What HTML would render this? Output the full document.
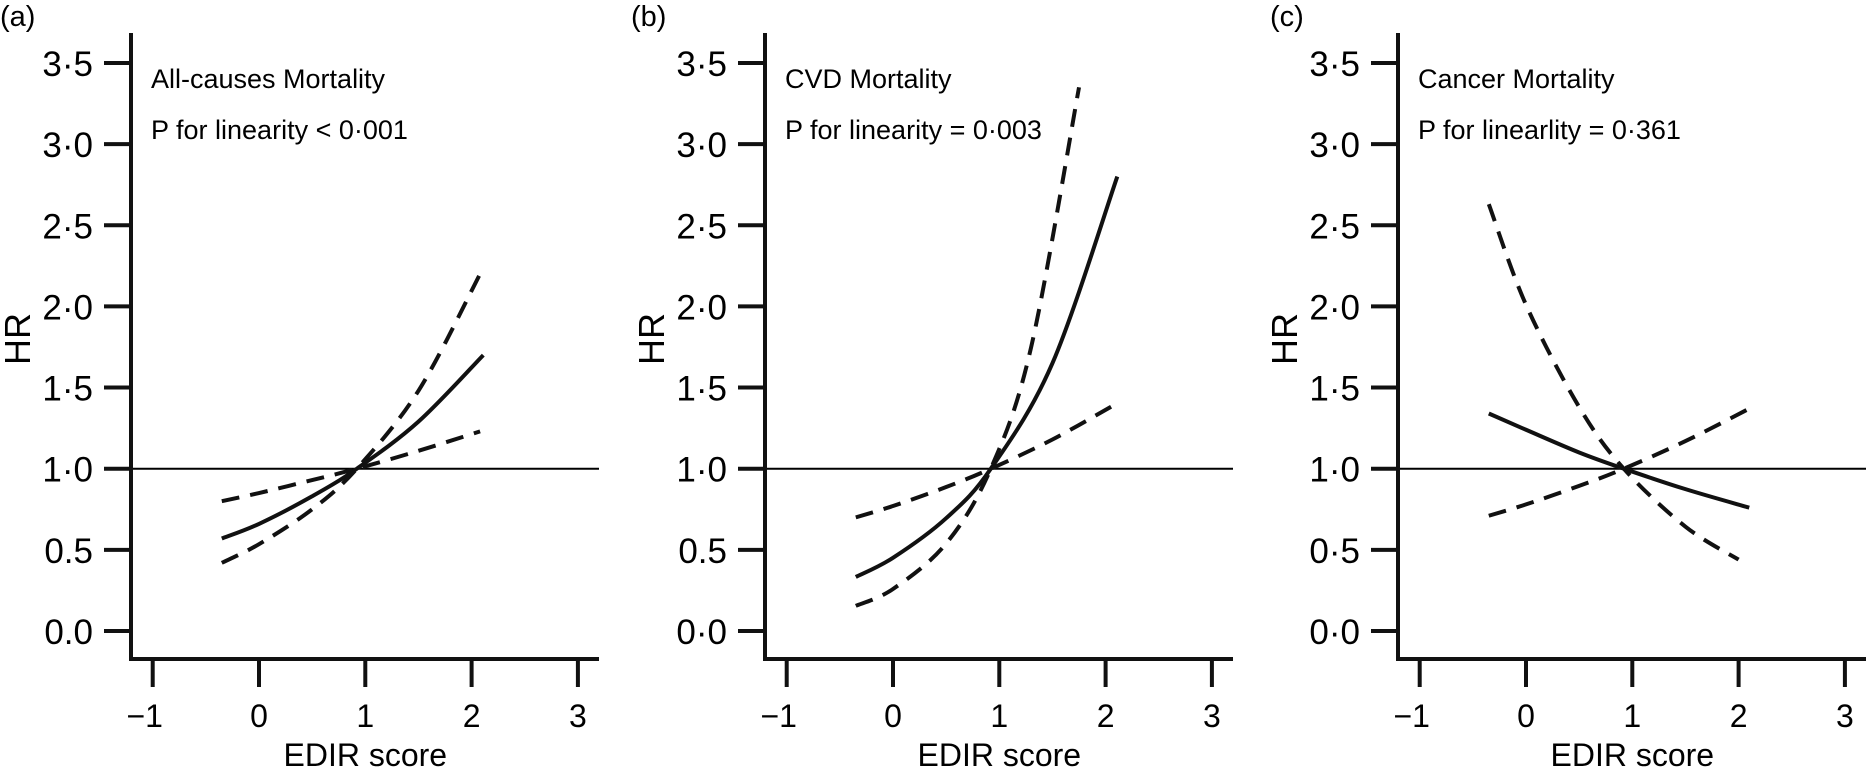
<!DOCTYPE html>
<html><head><meta charset="utf-8"><style>
html,body{margin:0;padding:0;background:#fff;}
svg{display:block;font-family:"Liberation Sans",Arial,sans-serif;}
</style></head><body>
<svg id="chart" width="1867" height="769" viewBox="0 0 1867 769"></svg>
<script>
const panelLetters = ["(a)", "(b)", "(c)"];
const panelTitles = ["All-causes Mortality", "CVD Mortality", "Cancer Mortality"];
const panelPvals = ["P for linearity < 0\u00b7001", "P for linearity = 0\u00b7003", "P for linearlity = 0\u00b7361"];
const yTickValues = [0, 0.5, 1, 1.5, 2, 2.5, 3, 3.5];
const yTickLabelsA = ["0.0", "0.5", "1\u00b70", "1\u00b75", "2\u00b70", "2\u00b75", "3\u00b70", "3\u00b75"];
const yTickLabelsB = ["0\u00b70", "0.5", "1\u00b70", "1\u00b75", "2\u00b70", "2\u00b75", "3\u00b70", "3\u00b75"];
const yTickLabelsC = ["0\u00b70", "0\u00b75", "1\u00b70", "1\u00b75", "2\u00b70", "2\u00b75", "3\u00b70", "3\u00b75"];
const xTickValues = [-1, 0, 1, 2, 3];
const xTickLabels = ["\u22121", "0", "1", "2", "3"];
const referenceHR = 1;

// Panel (a)
const aSolidX = [-0.35, 0, 0.5, 0.92, 1.5, 2.11];
const aSolidY = [0.57, 0.66, 0.83, 1.0, 1.29, 1.70];
const aUpperX = [-0.35, 0, 0.5, 0.92, 1.5, 2.08];
const aUpperY = [0.42, 0.535, 0.75, 1.0, 1.48, 2.20];
const aLowerX = [-0.35, 0, 0.5, 0.92, 1.5, 2.08];
const aLowerY = [0.80, 0.85, 0.93, 1.0, 1.11, 1.23];
// Panel (b)
const bSolidX = [-0.35, 0, 0.5, 0.92, 1.5, 2.11];
const bSolidY = [0.333, 0.451, 0.695, 1.0, 1.65, 2.80];
const bUpperX = [-0.35, 0, 0.5, 0.92, 1.3, 1.75];
const bUpperY = [0.155, 0.259, 0.539, 1.0, 1.75, 3.35];
const bLowerX = [-0.35, 0, 0.5, 0.92, 1.5, 2.1];
const bLowerY = [0.70, 0.77, 0.887, 1.0, 1.18, 1.40];
// Panel (c)
const cSolidX = [-0.35, 0, 0.5, 0.92, 1.5, 2.1];
const cSolidY = [1.34, 1.24, 1.10, 1.0, 0.874, 0.76];
const cUpperX = [-0.35, 0, 0.5, 0.92, 1.5, 2.0];
const cUpperY = [2.63, 2.01, 1.38, 1.0, 0.643, 0.44];
const cLowerX = [-0.35, 0, 0.5, 0.92, 1.5, 2.1];
const cLowerY = [0.71, 0.78, 0.894, 1.0, 1.17, 1.37];

const NS = "http://www.w3.org/2000/svg";
const svg = document.getElementById("chart");
function mk(tag, attrs, parent, text) {
  const e = document.createElementNS(NS, tag);
  for (const k in attrs) e.setAttribute(k, attrs[k]);
  if (text !== undefined) e.textContent = text;
  parent.appendChild(e);
  return e;
}
const axisXs = [131, 765, 1398];
const Y0 = 631, YU = 162.3, XU = 106.3, AXTOP = 33, AXBOT = 659, AXLEN = 468;
function curvePath(xs, ys, sx, sy) {
  const p = xs.map((x, i) => [sx(x), sy(ys[i])]);
  let d = "M" + p[0][0] + "," + p[0][1];
  for (let i = 0; i < p.length - 1; i++) {
    const p0 = p[Math.max(0, i - 1)], p1 = p[i], p2 = p[i + 1], p3 = p[Math.min(p.length - 1, i + 2)];
    const c1x = p1[0] + (p2[0] - p0[0]) / 6, c1y = p1[1] + (p2[1] - p0[1]) / 6;
    const c2x = p2[0] - (p3[0] - p1[0]) / 6, c2y = p2[1] - (p3[1] - p1[1]) / 6;
    d += " C" + c1x + "," + c1y + " " + c2x + "," + c2y + " " + p2[0] + "," + p2[1];
  }
  return d;
}
const series = [
  [[aSolidX, aSolidY], [aUpperX, aUpperY], [aLowerX, aLowerY]],
  [[bSolidX, bSolidY], [bUpperX, bUpperY], [bLowerX, bLowerY]],
  [[cSolidX, cSolidY], [cUpperX, cUpperY], [cLowerX, cLowerY]]
];
const yLabelSets = [yTickLabelsA, yTickLabelsB, yTickLabelsC];
const letterX = [0, 631, 1270];
const names = ["all-causes", "cvd", "cancer"];

for (let p = 0; p < 3; p++) {
  const ax = axisXs[p];
  const sx = v => ax + 128 + v * XU;
  const sy = v => Y0 - v * YU;
  const g = mk("g", {}, svg);
  
  

  const lt = mk("text", {x: letterX[p], y: 26, "font-size": 29}, g, panelLetters[p]);
  
  

  const ref = mk("line", {x1: ax, x2: ax + AXLEN, y1: sy(referenceHR), y2: sy(referenceHR), stroke: "#000", "stroke-width": 2}, g);
  
  

  const ya = mk("line", {x1: ax, x2: ax, y1: AXTOP, y2: AXBOT + 2, stroke: "#111", "stroke-width": 4}, g);
  
  
  const xa = mk("line", {x1: ax - 2, x2: ax + AXLEN, y1: AXBOT, y2: AXBOT, stroke: "#111", "stroke-width": 4}, g);
  
  

  yTickValues.forEach((v, i) => {
    const t = mk("line", {x1: ax - 27, x2: ax, y1: sy(v), y2: sy(v), stroke: "#111", "stroke-width": 4}, g);
    
    
    const l = mk("text", {x: ax - 38, y: sy(v) + 13, "font-size": 35, "text-anchor": "end"}, g, yLabelSets[p][i]);
    
    
  });
  xTickValues.forEach((v, i) => {
    const t = mk("line", {x1: sx(v), x2: sx(v), y1: AXBOT, y2: AXBOT + 28, stroke: "#111", "stroke-width": 4}, g);
    
    
    const l = mk("text", {x: sx(v) - (v < 0 ? 8 : 0), y: 727, "font-size": 32, "text-anchor": "middle"}, g, xTickLabels[i]);
    
    
  });
  const xt = mk("text", {x: sx(1), y: 766, "font-size": 32, "text-anchor": "middle"}, g, "EDIR score");
  
  
  const yt = mk("text", {x: 0, y: 0, "font-size": 36, "text-anchor": "middle", transform: "translate(" + (ax - 101) + ",339) rotate(-90)"}, g, "HR");
  
  

  const t1 = mk("text", {x: ax + 20, y: 88, "font-size": 27}, g, panelTitles[p]);
  
  
  const t2 = mk("text", {x: ax + 20, y: 139, "font-size": 27}, g, panelPvals[p]);
  
  

  series[p].forEach((s, k) => {
    const path = mk("path", {d: curvePath(s[0], s[1], sx, sy), fill: "none", stroke: "#111", "stroke-width": 4}, g);
    if (k > 0) path.setAttribute("stroke-dasharray", "18 11");
    
    
  });
}
</script>
</body></html>
